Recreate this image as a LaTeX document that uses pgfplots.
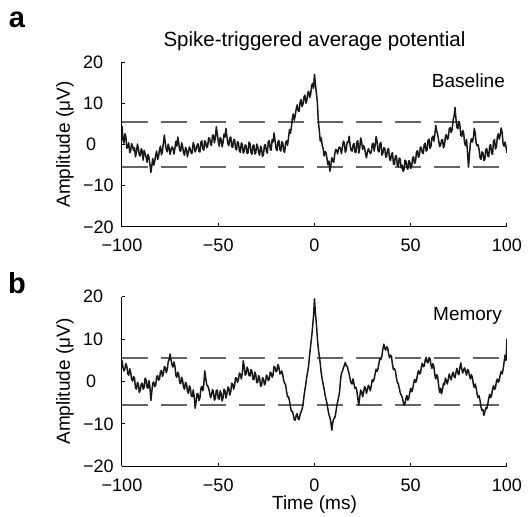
\documentclass[border=0pt]{standalone}
\usepackage{pgfplots}
\pgfplotsset{compat=1.18}
\usepackage{fontspec}
\setmainfont{Liberation Sans}
\definecolor{dashgray}{RGB}{100,100,100}
\pgfplotsset{
  panel/.style={
    scale only axis, width=385pt,
    xmin=-100, xmax=100, ymin=-20, ymax=20,
    axis x line*=bottom, axis y line*=left,
    tick align=inside, major tick length=3.5pt,
    xtick={-100,-50,0,50,100}, xticklabels={−100,−50,0,50,100},
    ytick={-20,-10,0,10,20}, yticklabels={−20,−10,\hspace{3pt}0,10,20},
    tick style={black, line width=1pt},
    axis line style={black, line width=1pt},
    every tick label/.append style={font=\fontsize{18}{20}\selectfont},
    yticklabel style={anchor=west, inner sep=0pt, xshift=-39pt},
    xticklabel style={anchor=north, inner sep=0pt, yshift=-12pt},
    ylabel={Amplitude (μV)},
    ylabel style={at={(axis description cs:-0.148,0.5)}, anchor=center, font=\fontsize{19}{21}\selectfont},
  },
  dashline/.style={dashgray, line width=1.4pt, dash pattern=on 26pt off 13pt},
  trace/.style={black!90, line width=1.5pt, line join=round},
}
\begin{document}
\begin{tikzpicture}[x=1pt,y=1pt]
\path[use as bounding box] (0,0) rectangle (531,517);
\node[font=\bfseries\fontsize{29}{30}\selectfont, inner sep=0pt] at (17,497) {a};
\node[font=\bfseries\fontsize{29}{30}\selectfont, inner sep=0pt] at (17,234) {b};

\begin{axis}[panel, height=165pt, at={(122pt,290pt)}, anchor=south west,
  title={Spike-triggered average potential},
  title style={at={(axis description cs:0.5,1)}, anchor=base, yshift=10pt, font=\fontsize{20.5}{23}\selectfont}]
\addplot[dashline] coordinates {(-100,5.5) (100,5.5)};
\addplot[dashline] coordinates {(-100,-5.5) (100,-5.5)};
\addplot[trace] table {
x y
-100 4.5
-99.5 1.2
-99 0.3
-98.5 2.6
-98 1.9
-97.5 -0.9
-97 -0.6
-96.5 0.4
-96 -2.0
-95.5 -1.5
-95 0.2
-94.5 -0.4
-94 -1.4
-93.5 -0.8
-93 -3.0
-92.5 -1.9
-92 0.1
-91.5 -0.9
-91 -2.6
-90.5 -2.8
-90 -1.0
-89.5 -1.6
-89 -3.8
-88.5 -1.4
-88 -2.2
-87.5 -3.0
-87 -4.3
-86.5 -2.4
-86 -3.1
-85.5 -4.8
-85 -6.8
-84.5 -5.1
-84 -3.4
-83.5 -5.0
-83 -4.1
-82.5 -2.6
-82 -1.6
-81.5 -3.6
-81 -2.9
-80.5 -1.2
-80 -0.4
-79.5 -2.5
-79 -1.7
-78.5 0.4
-78 2.3
-77.5 0.3
-77 -1.2
-76.5 -1.8
-76 0.1
-75.5 -0.8
-75 -2.4
-74.5 -1.3
-74 -0.6
-73.5 -1.0
-73 -2.3
-72.5 -0.9
-72 0.8
-71.5 -0.4
-71 1.8
-70.5 0.3
-70 -1.5
-69.5 -1.6
-69 0.4
-68.5 -0.5
-68 -2.1
-67.5 -2.6
-67 -0.7
-66.5 -1.2
-66 -3.0
-65.5 -1.8
-65 -0.6
-64.5 -1.1
-64 -2.2
-63.5 -2.0
-63 0.5
-62.5 -0.3
-62 -1.8
-61.5 -1.2
-61 -0.2
-60.5 0.2
-60 -1.7
-59.5 -1.8
-59 0.6
-58.5 0.9
-58 -1.0
-57.5 -1.4
-57 0.9
-56.5 0.5
-56 -0.8
-55.5 -0.4
-55 1.6
-54.5 1.5
-54 0.1
-53.5 -0.2
-53 2.2
-52.5 2.3
-52 0.4
-51.5 1.6
-51 4.3
-50.5 2.6
-50 0.8
-49.5 -0.4
-49 1.7
-48.5 1.3
-48 -0.6
-47.5 0.5
-47 2.5
-46.5 1.8
-46 3.9
-45.5 1.9
-45 0.2
-44.5 -0.3
-44 1.6
-43.5 1.8
-43 -0.5
-42.5 -0.7
-42 1.1
-41.5 1.2
-41 -1.0
-40.5 -1.3
-40 0.7
-39.5 0.4
-39 -1.6
-38.5 -1.9
-38 0.4
-37.5 0.0
-37 -2.1
-36.5 -1.6
-36 -0.1
-35.5 -0.3
-35 -2.2
-34.5 -2.0
-34 0.6
-33.5 0.2
-33 -1.9
-32.5 -2.4
-32 -0.3
-31.5 -0.1
-31 -2.3
-30.5 -2.0
-30 0.1
-29.5 -0.5
-29 -2.0
-28.5 -2.6
-28 -0.4
-27.5 -0.9
-27 -2.9
-26.5 -2.4
-26 -0.2
-25.5 0.0
-25 -1.6
-24.5 -2.1
-24 0.7
-23.5 0.9
-23 -1.1
-22.5 -1.4
-22 1.2
-21.5 0.6
-21 2.8
-20.5 1.0
-20 -0.9
-19.5 -1.5
-19 0.6
-18.5 1.0
-18 -1.2
-17.5 -1.6
-17 0.7
-16.5 0.4
-16 -1.6
-15.5 -1.9
-15 0.4
-14.5 0.9
-14 -0.2
-13.5 1.6
-13 3.6
-12.5 2.7
-12 4.2
-11.5 6.4
-11 7.4
-10.5 5.9
-10 7.1
-9.5 8.6
-9 9.6
-8.5 8.2
-8 8.0
-7.5 10.2
-7 10.9
-6.5 9.2
-6 9.7
-5.5 11.4
-5 12.0
-4.5 10.0
-4 10.6
-3.5 12.5
-3 12.9
-2.5 11.4
-2 12.1
-1.5 14.3
-1 14.8
-0.5 13.6
0 17.0
0.5 14.5
1 12.3
1.5 10.2
2 5.5
2.5 3.4
3 0.8
3.5 1.6
4 -0.2
4.5 -1.0
5 -2.8
5.5 -1.7
6 -2.0
6.5 -3.5
7 -4.9
7.5 -4.0
8 -6.5
8.5 -5.0
9 -3.2
9.5 -3.9
10 -4.3
10.5 -2.4
11 -1.2
11.5 -1.4
12 -2.3
12.5 -1.0
13 -0.6
13.5 -1.0
14 -2.2
14.5 -0.6
15 0.8
15.5 0.4
16 -1.9
16.5 -1.3
17 0.6
17.5 0.5
18 2.0
18.5 -0.3
19 -1.4
19.5 -1.6
20 -0.2
20.5 0.3
21 -1.8
21.5 -2.0
22 0.6
22.5 0.9
23 -2.1
23.5 -0.9
24 1.6
24.5 0.6
25 -1.2
25.5 -0.3
26 -0.8
26.5 -2.2
27 -3.2
27.5 -1.8
28 -1.0
28.5 -1.6
29 -2.2
29.5 -1.9
30 0.1
30.5 0.3
31 -1.6
31.5 -0.2
32 1.9
32.5 0.8
33 -1.5
33.5 -1.8
34 0.2
34.5 0.5
35 -2.6
35.5 -2.1
36 -0.8
36.5 -0.9
37 -3.1
37.5 -2.8
38 -1.2
38.5 -1.0
39 -3.6
39.5 -3.9
40 -2.4
40.5 -2.0
41 -4.6
41.5 -4.9
42 -2.9
42.5 -2.7
43 -5.0
43.5 -5.4
44 -3.3
44.5 -3.5
45 -5.7
45.5 -5.0
46 -6.5
46.5 -6.1
47 -3.8
47.5 -4.0
48 -5.6
48.5 -6.0
49 -3.9
49.5 -4.2
50 -5.8
50.5 -5.3
51 -3.2
51.5 -3.0
52 -4.6
52.5 -4.0
53 -1.8
53.5 -1.5
54 -3.1
54.5 -2.6
55 -0.6
55.5 -0.8
56 -2.0
56.5 -2.2
57 0.0
57.5 0.3
58 -1.6
58.5 -1.3
59 1.0
59.5 1.3
60 -0.9
60.5 -0.4
61 1.6
61.5 2.0
62 0.8
62.5 2.4
63 4.6
63.5 3.3
64 2.4
64.5 1.0
65 -0.5
65.5 -0.2
66 1.0
66.5 1.2
67 -0.8
67.5 -0.2
68 1.9
68.5 2.4
69 1.2
69.5 1.6
70 3.8
70.5 4.1
71 2.9
71.5 3.6
72 5.9
72.5 6.8
73 9.0
73.5 6.2
74 4.1
74.5 3.8
75 5.6
75.5 4.9
76 2.2
76.5 2.0
77 3.4
77.5 2.7
78 0.3
78.5 -0.3
79 1.2
79.5 -2.0
80 -5.5
80.5 -2.4
81 0.4
81.5 1.4
82 0.6
82.5 1.5
83 3.9
83.5 2.8
84 0.2
84.5 -0.3
85 -0.1
85.5 -1.2
86 -3.2
86.5 -3.6
87 -1.8
87.5 -2.0
88 -3.9
88.5 -3.6
89 -1.2
89.5 -1.0
90 -2.7
90.5 -3.0
91 -0.4
91.5 0.0
92 -2.1
92.5 -2.4
93 0.8
93.5 1.2
94 -1.1
94.5 -0.6
95 1.9
95.5 2.6
96 1.3
96.5 2.4
97 4.0
97.5 2.8
98 0.1
98.5 -0.4
99 0.6
99.5 -0.6
100 -2.0
};
\node[anchor=base east, inner sep=0pt, font=\fontsize{19}{21}\selectfont] at (axis cs:99,13.9) {Baseline};
\end{axis}

\begin{axis}[panel, height=169.6pt, at={(122pt,50.7pt)}, anchor=south west,
  xlabel={Time (ms)},
  xlabel style={at={(axis description cs:0.5,0)}, anchor=north, inner sep=0pt, yshift=-29pt, font=\fontsize{19}{21}\selectfont}]
\addplot[dashline] coordinates {(-100,5.5) (100,5.5)};
\addplot[dashline] coordinates {(-100,-5.5) (100,-5.5)};
\addplot[trace] table {
x y
-100 5.0
-99.5 3.4
-99 2.5
-98.5 3.0
-98 4.2
-97.5 3.6
-97 1.8
-96.5 1.5
-96 3.0
-95.5 2.2
-95 0.5
-94.5 0.1
-94 1.2
-93.5 0.8
-93 -1.5
-92.5 -1.8
-92 -0.2
-91.5 -0.6
-91 -2.6
-90.5 -2.0
-90 -0.6
-89.5 -0.4
-89 -1.8
-88.5 -1.4
-88 0.8
-87.5 0.4
-87 -1.3
-86.5 -1.6
-86 0.2
-85.5 -1.2
-85 -4.5
-84.5 -2.3
-84 -0.4
-83.5 -0.1
-83 -1.2
-82.5 -0.9
-82 1.1
-81.5 1.4
-81 0.3
-80.5 0.6
-80 2.4
-79.5 2.6
-79 1.2
-78.5 1.8
-78 3.5
-77.5 3.3
-77 2.1
-76.5 2.8
-76 4.6
-75.5 5.2
-75 6.5
-74.5 5.0
-74 3.9
-73.5 3.4
-73 4.6
-72.5 3.6
-72 1.4
-71.5 1.0
-71 2.2
-70.5 1.6
-70 -0.3
-69.5 -0.5
-69 1.0
-68.5 0.2
-68 -1.4
-67.5 -1.8
-67 -0.2
-66.5 -0.6
-66 -2.3
-65.5 -2.8
-65 -1.0
-64.5 -1.5
-64 -3.4
-63.5 -3.6
-63 -2.0
-62.5 -3.5
-62 -6.3
-61.5 -4.8
-61 -2.8
-60.5 -3.0
-60 -4.5
-59.5 -3.8
-59 -1.6
-58.5 -1.2
-58 -2.2
-57.5 -0.6
-57 2.5
-56.5 0.8
-56 -0.8
-55.5 -1.0
-55 -1.6
-54.5 -2.6
-54 -3.8
-53.5 -3.2
-53 -1.9
-52.5 -2.4
-52 -4.4
-51.5 -4.0
-51 -2.1
-50.5 -2.0
-50 -4.0
-49.5 -4.2
-49 -2.2
-48.5 -2.8
-48 -4.6
-47.5 -3.8
-47 -1.8
-46.5 -2.2
-46 -3.9
-45.5 -3.0
-45 -1.3
-44.5 -1.6
-44 -3.2
-43.5 -2.4
-43 -0.4
-42.5 -0.6
-42 -1.8
-41.5 -0.9
-41 0.9
-40.5 0.8
-40 -0.2
-39.5 0.4
-39 2.0
-38.5 1.7
-38 0.6
-37.5 2.0
-37 4.9
-36.5 3.5
-36 1.5
-35.5 1.8
-35 3.4
-34.5 2.8
-34 1.4
-33.5 1.3
-33 2.8
-32.5 2.4
-32 0.6
-31.5 0.4
-31 2.2
-30.5 1.6
-30 -0.3
-29.5 -0.2
-29 1.4
-28.5 0.8
-28 -1.1
-27.5 -1.0
-27 0.9
-26.5 0.6
-26 -0.8
-25.5 -0.4
-25 1.5
-24.5 1.2
-24 0.2
-23.5 0.5
-23 2.2
-22.5 2.0
-22 1.0
-21.5 1.6
-21 3.6
-20.5 3.3
-20 2.3
-19.5 2.6
-19 4.0
-18.5 3.4
-18 1.8
-17.5 1.9
-17 2.5
-16.5 1.6
-16 0.2
-15.5 -0.4
-15 -0.8
-14.5 -2.4
-14 -3.6
-13.5 -3.6
-13 -4.5
-12.5 -6.0
-12 -7.0
-11.5 -7.0
-11 -7.8
-10.5 -9.0
-10 -9.1
-9.5 -8.0
-9 -7.6
-8.5 -8.8
-8 -9.0
-7.5 -7.8
-7 -7.2
-6.5 -6.6
-6 -5.5
-5.5 -3.6
-5 -2.0
-4.5 -0.6
-4 1.2
-3.5 2.4
-3 4.0
-2.5 6.4
-2 8.5
-1.5 10.4
-1 12.8
-0.5 15.5
0 19.5
0.5 16.0
1 13.5
1.5 10.2
2 7.6
2.5 6.0
3 4.2
3.5 2.0
4 0.5
4.5 -0.6
5 -1.8
5.5 -3.2
6 -4.2
6.5 -5.2
7 -6.6
7.5 -7.8
8 -8.5
8.5 -9.6
9 -11.5
9.5 -9.6
10 -8.8
10.5 -8.6
11 -7.6
11.5 -6.0
12 -4.8
12.5 -3.8
13 -2.5
13.5 0.2
14 2.0
14.5 2.4
15 3.2
15.5 3.8
16 4.5
16.5 3.7
17 3.6
17.5 2.6
18 1.8
18.5 0.6
19 -0.3
19.5 -0.6
20 0.6
20.5 -0.5
21 -1.6
21.5 -1.4
22 -2.2
22.5 -4.0
23 -5.6
23.5 -3.6
24 -2.0
24.5 -2.4
25 -3.6
25.5 -2.6
26 -1.2
26.5 -1.6
27 -2.8
27.5 -1.9
28 -0.9
28.5 -1.3
29 -2.2
29.5 -1.0
30 0.4
30.5 0.0
31 0.6
31.5 1.8
32 2.9
32.5 2.4
33 3.0
33.5 4.4
34 5.4
34.5 5.2
35 6.0
35.5 7.6
36 8.8
36.5 7.8
37 7.4
37.5 8.2
38 7.9
38.5 6.6
39 5.6
39.5 6.2
40 5.9
40.5 4.0
41 2.8
41.5 3.0
42 2.6
42.5 1.0
43 -0.2
43.5 -0.5
44 -1.5
44.5 -2.6
45 -3.2
45.5 -3.6
46 -4.6
46.5 -5.6
47 -5.2
47.5 -4.0
48 -3.3
48.5 -4.4
49 -3.9
49.5 -2.6
50 -1.6
50.5 -2.4
51 -1.8
51.5 -0.4
52 0.5
52.5 -0.2
53 0.2
53.5 1.6
54 2.6
54.5 1.8
55 1.9
55.5 3.4
56 4.3
56.5 3.5
57 3.6
57.5 5.0
58 5.7
58.5 4.6
59 4.4
59.5 5.6
60 5.4
60.5 4.0
61 3.1
61.5 4.2
62 3.6
62.5 1.6
63 0.6
63.5 1.6
64 1.1
64.5 -1.0
65 -2.6
65.5 -1.6
66 -2.9
66.5 -1.8
67 -0.4
67.5 -0.8
68 0.8
68.5 0.2
69 -0.6
69.5 0.6
70 1.8
70.5 0.9
71 0.4
71.5 1.6
72 2.2
72.5 1.2
73 0.9
73.5 2.2
74 3.1
74.5 2.0
75 1.6
75.5 3.2
76 4.4
76.5 3.0
77 2.0
77.5 2.8
78 3.2
78.5 2.2
79 1.5
79.5 2.8
80 2.6
80.5 1.4
81 0.6
81.5 1.6
82 1.0
82.5 -0.6
83 -1.4
83.5 -0.6
84 -1.6
84.5 -3.0
85 -3.8
85.5 -3.4
86 -4.5
86.5 -6.0
87 -6.8
87.5 -6.6
88 -8.0
88.5 -7.2
89 -6.2
89.5 -6.4
90 -5.4
90.5 -4.0
91 -3.0
91.5 -3.8
92 -3.3
92.5 -1.8
93 -1.0
93.5 -1.9
94 -1.5
94.5 0.0
95 0.6
95.5 -0.2
96 0.3
96.5 1.6
97 2.4
97.5 1.8
98 2.9
98.5 4.6
99 6.2
99.5 5.0
100 10.0
100 5.5
};
\node[anchor=base east, inner sep=0pt, font=\fontsize{19}{21}\selectfont] at (axis cs:97.4,14.5) {Memory};
\end{axis}
\end{tikzpicture}
\end{document}
